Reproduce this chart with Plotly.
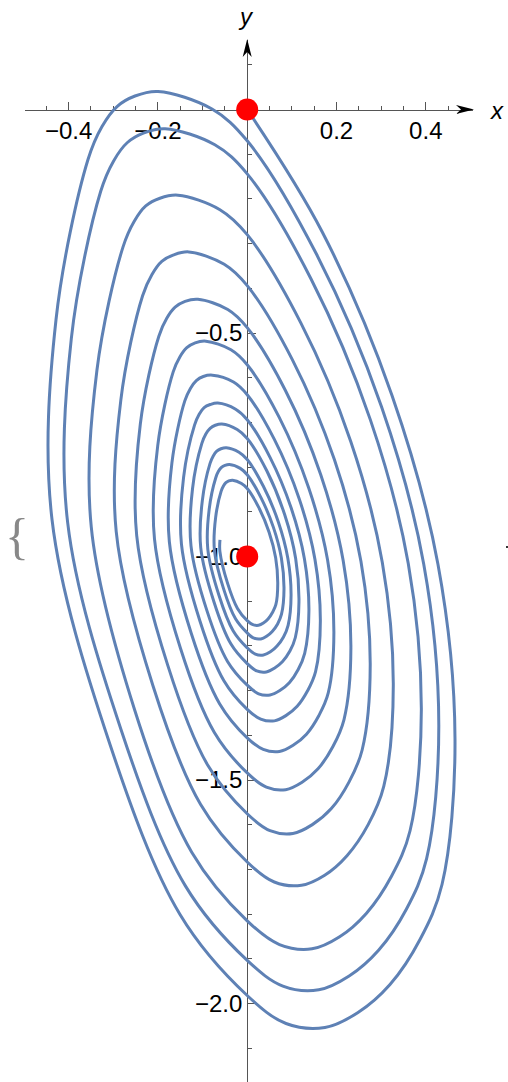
import plotly.graph_objects as go

W, H = 508, 1082

# ---- the spiral, one pair of arrays per revolution (data units) ----
rev1_x = [0.0, 0.1675, 0.3243, 0.4273, 0.4654, 0.4363, 0.3870, 0.3198, 0.2482, 0.1742, 0.0869, 0.0,
          -0.1505, -0.3073, -0.4372, -0.4282, -0.3566, -0.3252, -0.2916, -0.2513, -0.1998, -0.0788]
rev1_y = [0.0, -0.2729, -0.6398, -1.0179, -1.4094, -1.7338, -1.8568, -1.9575, -2.0201, -2.0537, -2.0447, -1.9821,
          -1.8009, -1.4206, -0.9172, -0.4698, -0.1119, -0.0380, 0.0067, 0.0302, 0.0403, 0.0011]
rev2_x = [0.0, 0.1556, 0.3010, 0.3953, 0.4291, 0.4018, 0.3564, 0.2942, 0.2283, 0.1603, 0.0799, 0.0,
          -0.1385, -0.2827, -0.4022, -0.3939, -0.3281, -0.2992, -0.2683, -0.2312, -0.1838, -0.0725]
rev2_y = [-0.070, -0.3245, -0.6657, -1.0166, -1.3775, -1.6758, -1.7891, -1.8809, -1.9385, -1.9694, -1.9611, -1.9035,
          -1.7368, -1.3870, -0.9238, -0.5122, -0.1829, -0.1150, -0.0738, -0.0522, -0.0429, -0.0790]
rev3_x = [0.0, 0.1430, 0.2757, 0.3606, 0.3900, 0.3647, 0.3231, 0.2667, 0.2070, 0.1451, 0.0722, 0.0,
          -0.1243, -0.2517, -0.3493, -0.3366, -0.2781, -0.2533, -0.2272, -0.1955, -0.1552, -0.0611]
rev3_y = [-0.144, -0.3791, -0.6938, -1.0151, -1.3431, -1.6135, -1.7154, -1.7986, -1.8508, -1.8777, -1.8681, -1.8151,
          -1.6615, -1.3445, -0.9338, -0.5833, -0.3073, -0.2506, -0.2158, -0.1985, -0.1917, -0.2241]
rev4_x = [0.0, 0.1203, 0.2319, 0.3025, 0.3272, 0.3058, 0.2709, 0.2235, 0.1735, 0.1216, 0.0606, 0.0,
          -0.1043, -0.2111, -0.2934, -0.2830, -0.2343, -0.2133, -0.1913, -0.1646, -0.1309, -0.0515]
rev4_y = [-0.280, -0.4779, -0.7425, -1.0127, -1.2878, -1.5144, -1.5998, -1.6693, -1.7130, -1.7355, -1.7282, -1.6835,
          -1.5550, -1.2890, -0.9444, -0.6495, -0.4165, -0.3689, -0.3396, -0.3252, -0.3186, -0.3463]
rev5_x = [0.0, 0.1013, 0.1952, 0.2547, 0.2755, 0.2574, 0.2279, 0.1884, 0.1459, 0.1024, 0.0510, 0.0,
          -0.0879, -0.1779, -0.2475, -0.2394, -0.1979, -0.1802, -0.1615, -0.1392, -0.1105, -0.0435]
rev5_y = [-0.394, -0.5601, -0.7832, -1.0107, -1.2424, -1.4329, -1.5047, -1.5640, -1.5998, -1.6196, -1.6132, -1.5755,
          -1.4677, -1.2435, -0.9531, -0.7036, -0.5071, -0.4671, -0.4423, -0.4293, -0.4247, -0.4474]
rev6_x = [0.0, 0.0856, 0.1647, 0.2149, 0.2322, 0.2168, 0.1920, 0.1586, 0.1229, 0.0862, 0.0429, 0.0,
          -0.0739, -0.1497, -0.2077, -0.2004, -0.1658, -0.1509, -0.1353, -0.1166, -0.0925, -0.0364]
rev6_y = [-0.488, -0.6285, -0.8170, -1.0090, -1.2043, -1.3647, -1.4250, -1.4749, -1.5049, -1.5216, -1.5161, -1.4842,
          -1.3932, -1.2048, -0.9607, -0.7519, -0.5870, -0.5536, -0.5329, -0.5220, -0.5183, -0.5375]
rev7_x = [0.0, 0.0717, 0.1378, 0.1799, 0.1941, 0.1815, 0.1606, 0.1327, 0.1028, 0.0721, 0.0359, 0.0,
          -0.0619, -0.1254, -0.1744, -0.1687, -0.1398, -0.1272, -0.1140, -0.0983, -0.0779, -0.0307]
rev7_y = [-0.571, -0.6888, -0.8469, -1.0075, -1.1707, -1.3053, -1.3556, -1.3974, -1.4223, -1.4362, -1.4315, -1.4056,
          -1.3292, -1.1716, -0.9670, -0.7911, -0.6519, -0.6239, -0.6064, -0.5972, -0.5943, -0.6096]
rev8_x = [0.0, 0.0605, 0.1164, 0.1517, 0.1638, 0.1531, 0.1355, 0.1119, 0.0866, 0.0608, 0.0302, 0.0,
          -0.0522, -0.1057, -0.1473, -0.1426, -0.1180, -0.1076, -0.0965, -0.0829, -0.0659, -0.0259]
rev8_y = [-0.638, -0.7375, -0.8707, -1.0064, -1.1441, -1.2576, -1.2999, -1.3351, -1.3560, -1.3677, -1.3636, -1.3418,
          -1.2779, -1.1447, -0.9721, -0.8234, -0.7060, -0.6816, -0.6668, -0.6600, -0.6567, -0.6706]
rev9_x = [0.0, 0.0511, 0.0983, 0.1282, 0.1382, 0.1287, 0.1142, 0.0943, 0.0730, 0.0512, 0.0255, 0.0,
          -0.0441, -0.0897, -0.1259, -0.1225, -0.1016, -0.0927, -0.0831, -0.0716, -0.0569, -0.0224]
rev9_y = [-0.694, -0.7782, -0.8909, -1.0054, -1.1216, -1.2165, -1.2528, -1.2825, -1.2999, -1.3098, -1.3071, -1.2878,
          -1.2347, -1.1228, -0.9762, -0.8484, -0.7469, -0.7258, -0.7131, -0.7064, -0.7035, -0.7157]
rev10_x = [0.0, 0.0441, 0.0840, 0.1085, 0.1159, 0.1078, 0.0956, 0.0787, 0.0608, 0.0427, 0.0213, 0.0,
           -0.0367, -0.0744, -0.1041, -0.1006, -0.0834, -0.0761, -0.0682, -0.0588, -0.0468, -0.0184]
rev10_y = [-0.736, -0.8088, -0.9067, -1.0045, -1.1019, -1.1812, -1.2116, -1.2355, -1.2499, -1.2582, -1.2560, -1.2396,
           -1.1954, -1.1018, -0.9803, -0.8754, -0.7922, -0.7749, -0.7644, -0.7589, -0.7566, -0.7667]
rev11_x = [0.0, 0.0362, 0.0697, 0.0910, 0.0982, 0.0916, 0.0813, 0.0668, 0.0519, 0.0364, 0.0182, 0.0,
           -0.0313, -0.0633, -0.0883, -0.0852, -0.0706, -0.0644, -0.0577, -0.0498, -0.0396, -0.0155]
rev11_y = [-0.783, -0.8429, -0.9226, -1.0038, -1.0864, -1.1541, -1.1799, -1.2001, -1.2132, -1.2202, -1.2183, -1.2043,
           -1.1666, -1.0866, -0.9833, -0.8945, -0.8242, -0.8095, -0.8007, -0.7960, -0.7940, -0.8028]
rev12_x = [0.0, 0.0305, 0.0587, 0.0765, 0.0824, 0.0768, 0.0681, 0.0560, 0.0434, 0.0305, 0.0152, 0.0,
           -0.0262, -0.0529, -0.0734, -0.0707, -0.0585, -0.0533, -0.0478, -0.0412, -0.0328, -0.0128]
rev12_y = [-0.817, -0.8677, -0.9348, -1.0032, -1.0725, -1.1291, -1.1508, -1.1676, -1.1785, -1.1844, -1.1828, -1.1709,
           -1.1394, -1.0723, -0.9861, -0.9125, -0.8543, -0.8422, -0.8349, -0.8310, -0.8294, -0.8368]
rev13_x = [0.0, 0.0255, 0.0490, 0.0637, 0.0684, 0.0641, 0.0565, 0.0467, 0.0362, 0.0254, 0.0127, 0.0,
           -0.0218, -0.0439, -0.0612, -0.061]
rev13_y = [-0.848, -0.8895, -0.9456, -1.0027, -1.0602, -1.1079, -1.1251, -1.1398, -1.1489, -1.1538, -1.1525, -1.1434,
           -1.1161, -1.0601, -0.9884, -0.963]

revs_x = [rev1_x, rev2_x, rev3_x, rev4_x, rev5_x, rev6_x, rev7_x, rev8_x, rev9_x, rev10_x, rev11_x, rev12_x, rev13_x]
revs_y = [rev1_y, rev2_y, rev3_y, rev4_y, rev5_y, rev6_y, rev7_y, rev8_y, rev9_y, rev10_y, rev11_y, rev12_y, rev13_y]

# red points
points_x = [0.0, 0.0]
points_y = [0.0, -1.0]

# ticks
x_tick_vals = [-0.4, -0.2, 0.2, 0.4]
x_tick_text = ["\u22120.4", "\u22120.2", "0.2", "0.4"]
x_minor_vals = [-0.45, -0.35, -0.3, -0.25, -0.15, -0.1, -0.05, 0.05, 0.1, 0.15, 0.25, 0.3, 0.35, 0.45]
y_tick_vals = [-2.0, -1.5, -1.0, -0.5]
y_tick_text = ["\u22122.0", "\u22121.5", "\u22121.0", "\u22120.5"]
y_minor_vals = [0.1, -0.1, -0.2, -0.3, -0.4, -0.6, -0.7, -0.8, -0.9, -1.1, -1.2, -1.3, -1.4,
                -1.6, -1.7, -1.8, -1.9, -2.1]

# ---- assemble the curve path ----
xs, ys = [], []
for rx, ry in zip(revs_x, revs_y):
    xs += rx
    ys += ry

LINE = "#5E81B5"
AX = "#555555"
FONT = "Liberation Sans"

fig = go.Figure()
fig.add_trace(go.Scatter(x=xs, y=ys, mode="lines",
                         line=dict(color=LINE, width=3, shape="spline", smoothing=1.0),
                         hoverinfo="skip"))
fig.add_trace(go.Scatter(x=points_x, y=points_y, mode="markers",
                         marker=dict(color="#FF0000", size=22, line=dict(width=0)),
                         cliponaxis=False, hoverinfo="skip"))

def P(px, py):
    return px / W, 1 - py / H

def path(pts):
    s = ""
    for i, (px, py) in enumerate(pts):
        x, y = P(px, py)
        s += ("M" if i == 0 else " L") + f"{x:.5f},{y:.5f}"
    return s + " Z"

shapes = [
    dict(type="path", xref="paper", yref="paper", layer="above",
         path=path([(474, 109.5), (456, 105), (461, 109.5), (456, 114)]),
         fillcolor="black", line=dict(width=0)),
    dict(type="path", xref="paper", yref="paper", layer="above",
         path=path([(247.2, 39), (242.7, 57), (247.2, 52), (251.7, 57)]),
         fillcolor="black", line=dict(width=0)),
    dict(type="rect", xref="paper", yref="paper", layer="above",
         x0=506 / W, x1=508 / W, y0=1 - 548 / H, y1=1 - 546 / H,
         fillcolor="#333", line=dict(width=0)),
]

annotations = [
    dict(text="<i>y</i>", x=246 / W, y=1 - 17 / H, xref="paper", yref="paper",
         showarrow=False, font=dict(family=FONT, size=24, color="black"),
         xanchor="center", yanchor="middle"),
    dict(text="<i>x</i>", x=497 / W, y=1 - 111 / H, xref="paper", yref="paper",
         showarrow=False, font=dict(family=FONT, size=24, color="black"),
         xanchor="center", yanchor="middle"),
    dict(text="{", x=17 / W, y=1 - 536 / H, xref="paper", yref="paper",
         showarrow=False, font=dict(family="Liberation Serif", size=50, color="#888888"),
         xanchor="center", yanchor="middle"),
]

fig.update_layout(
    width=W, height=H, margin=dict(l=0, r=0, t=0, b=0),
    paper_bgcolor="white", plot_bgcolor="white", showlegend=False,
    xaxis=dict(domain=[25 / W, 473 / W], range=[-0.4977, 0.5057],
               anchor="free", position=(H - 109.5) / H,
               showline=True, linecolor=AX, linewidth=1,
               ticks="inside", ticklen=7.5, tickwidth=1, tickcolor=AX,
               tickmode="array", tickvals=x_tick_vals, ticktext=x_tick_text,
               minor=dict(tickmode="array", tickvals=x_minor_vals, ticks="inside",
                          ticklen=4, tickwidth=1, tickcolor=AX),
               tickfont=dict(family=FONT, size=24, color="black"),
               showgrid=False, zeroline=False, layer="below traces"),
    yaxis=dict(domain=[0, 1 - 40 / H], range=[-2.1756, 0.1555],
               anchor="free", position=247.2 / W, side="left",
               showline=True, linecolor=AX, linewidth=1,
               ticks="inside", ticklen=7.5, tickwidth=1, tickcolor=AX,
               tickmode="array", tickvals=y_tick_vals, ticktext=y_tick_text,
               minor=dict(tickmode="array", tickvals=y_minor_vals, ticks="inside",
                          ticklen=4, tickwidth=1, tickcolor=AX),
               tickfont=dict(family=FONT, size=24, color="black"),
               showgrid=False, zeroline=False, layer="below traces"),
    shapes=shapes, annotations=annotations,
)

fig.write_html("out.html", config={"displayModeBar": False},
               post_script="document.body.style.margin='0px';document.body.style.padding='0px';"
                           "document.body.style.overflow='hidden';")
